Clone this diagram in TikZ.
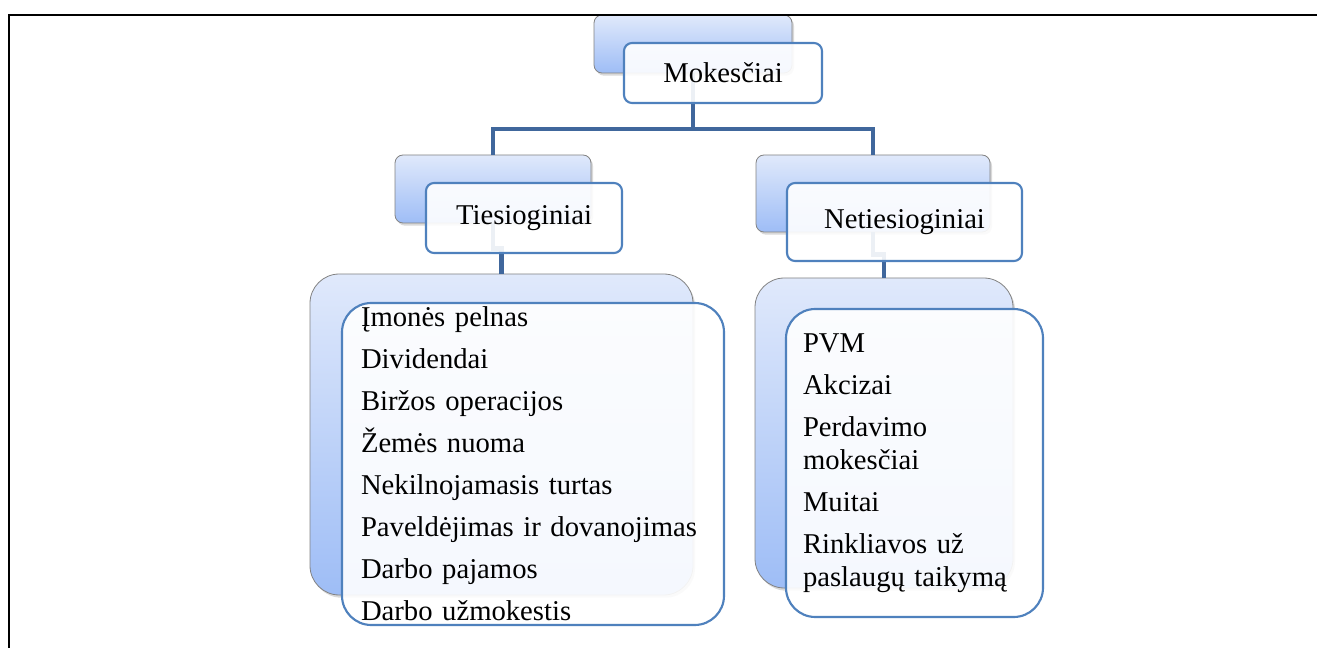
\documentclass[tikz,border=0pt]{standalone}
\usepackage{fontspec}
\setmainfont{Liberation Serif}
\usetikzlibrary{shadows}
\definecolor{boxblue}{RGB}{79,129,189}
\definecolor{linkblue}{RGB}{64,103,156}
\definecolor{backtop}{RGB}{224,233,251}
\definecolor{backbottom}{RGB}{158,189,246}
\definecolor{backedge}{RGB}{130,130,130}
\begin{document}
\begin{tikzpicture}[x=0.75pt,y=-0.75pt,
    backbox/.style={rectangle,rounded corners=6pt,draw=backedge,line width=0.6pt,
      top color=backtop,bottom color=backbottom,inner sep=0pt,
      drop shadow={shadow xshift=1.5pt,shadow yshift=-2pt,opacity=0.3}},
    frontbox/.style={rectangle,rounded corners=6pt,draw=boxblue,line width=1.6pt,
      fill=white,fill opacity=0.9,text opacity=1,inner sep=0pt,
      font=\fontsize{21.5}{24}\selectfont},
    listbox/.style={frontbox,rounded corners=22pt,align=left},
    link/.style={draw=linkblue,line width=3.7pt}]
    \useasboundingbox (0,0) rectangle (1317,648);
    %
    \node[backbox,minimum width=148.5pt,minimum height=43.5pt] (mokback) at (693,44) {};
    \node[backbox,minimum width=147pt,minimum height=51pt] (tiesback) at (493,189) {};
    \node[backbox,minimum width=175.5pt,minimum height=57.75pt] (netback) at (873,193.5) {};
    \node[backbox,rounded corners=22pt,minimum width=287.25pt,minimum height=240.75pt] (tieslistback) at (501.5,434.5) {};
    \node[backbox,rounded corners=22pt,minimum width=193.5pt,minimum height=232.5pt] (netlistback) at (884,433) {};
    %
    \coordinate (split) at (693,129);
    \draw[link] (mokback.south) -- (split);
    \draw[link] (tiesback.north) |- (split) -| (netback.north);
    \draw[link] (tiesback.south) -- ++(0,25) -| (tieslistback.north);
    \draw[link] (netback.south) -- ++(0,22) -| (netlistback.north);
    %
    \node[frontbox,minimum width=148.5pt,minimum height=45pt] (mok) at (723,73) {Mokesčiai};
    \node[frontbox,minimum width=147pt,minimum height=52.5pt] (ties) at (524,218) {Tiesioginiai};
    \node[frontbox,minimum width=176.25pt,minimum height=58.5pt] (net) at (904.5,222) {Netiesioginiai};
    %
    \node[listbox,inner xsep=14.25pt,text width=258pt,minimum height=241.5pt,
      font=\fontsize{21.5}{31.5}\selectfont] (tieslist) at (533,464)
      {Įmonės pelnas\\ Dividendai\\ Biržos operacijos\\ Žemės nuoma\\
       Nekilnojamasis turtas\\ Paveldėjimas ir dovanojimas\\ Darbo pajamos\\ Darbo užmokestis};
    \node[listbox,inner xsep=12.75pt,text width=167.25pt,minimum height=231pt,
      font=\fontsize{21.5}{24.75}\selectfont] (netlist) at (914.5,463)
      {PVM\\[6.75pt] Akcizai\\[6.75pt] Perdavimo\\ mokesčiai\\[6.75pt] Muitai\\[6.75pt]
       Rinkliavos už\\ paslaugų taikymą};
    %
    \draw[line width=2.2pt] (9,648) -- (9,15) -- (1317,15);
\end{tikzpicture}
\end{document}
